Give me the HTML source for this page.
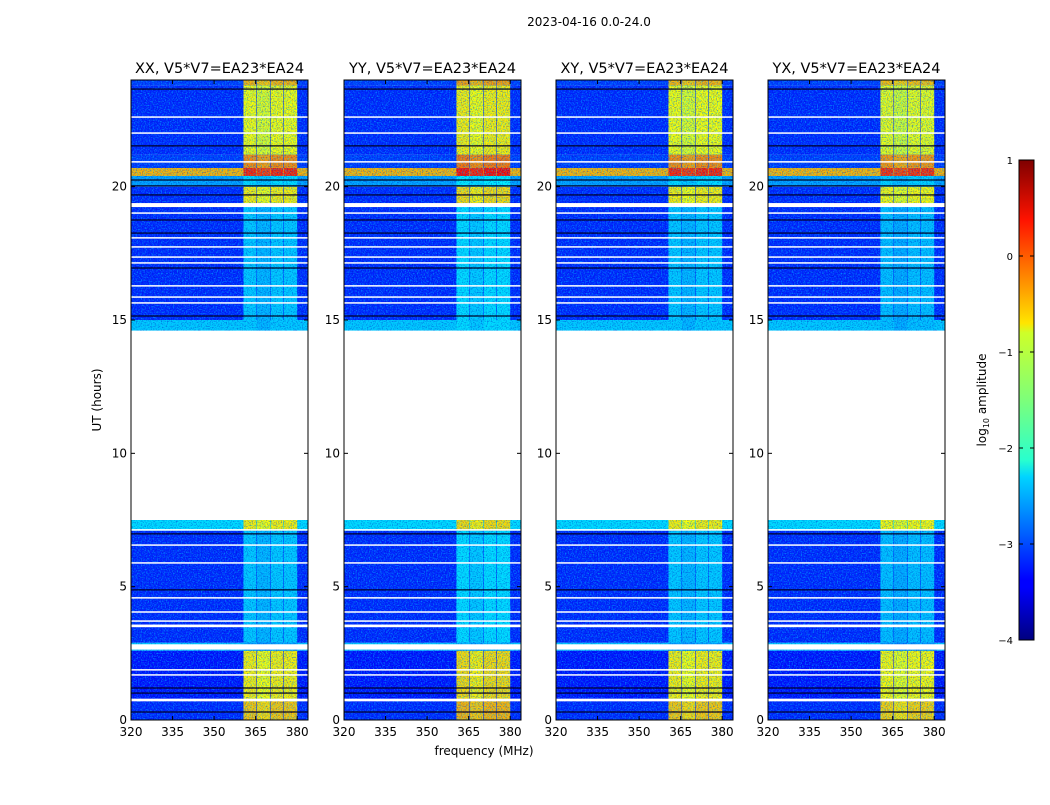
<!DOCTYPE html>
<html><head><meta charset="utf-8"><style>
body{margin:0;background:#fff;width:1050px;height:800px;overflow:hidden}
svg text{font-family:"DejaVu Sans","Liberation Sans",sans-serif;fill:#000}
</style></head><body>
<svg id="fig" width="1050" height="800" viewBox="0 0 1050 800" xmlns="http://www.w3.org/2000/svg">
<defs>
<filter id="noise" x="0" y="0" width="1" height="1"><feTurbulence type="fractalNoise" baseFrequency="0.75" numOctaves="1" seed="3"/><feColorMatrix type="matrix" values="0 0 0 0 0  0 0 0 0 0.75  0 0 0 0 1  2.6 0 0 0 -1.15"/></filter>
<filter id="noise2" x="0" y="0" width="1" height="1"><feTurbulence type="fractalNoise" baseFrequency="0.8" numOctaves="1" seed="9"/><feColorMatrix type="matrix" values="0 0 0 0 0  0 0 0 0 0  0 0 0 0 0.5  0 2.6 0 0 -1.2"/></filter>
<linearGradient id="jet" x1="0" y1="1" x2="0" y2="0">
<stop offset="0" stop-color="#00007f"/><stop offset="0.11" stop-color="#0000ff"/><stop offset="0.125" stop-color="#0000ff"/><stop offset="0.34" stop-color="#00d4ff"/><stop offset="0.375" stop-color="#29ffce"/><stop offset="0.5" stop-color="#7dff7a"/><stop offset="0.64" stop-color="#ceff29"/><stop offset="0.66" stop-color="#ffe500"/><stop offset="0.875" stop-color="#ff1300"/><stop offset="1" stop-color="#7f0000"/>
</linearGradient>
</defs>
<text x="589" y="26" font-size="12" text-anchor="middle">2023-04-16 0.0-24.0</text>
<text x="484" y="755" font-size="12" text-anchor="middle">frequency (MHz)</text>
<text x="101" y="400" font-size="12" text-anchor="middle" transform="rotate(-90 101 400)">UT (hours)</text>
<g id="panels"></g>
<g>
<rect x="1019" y="160" width="15" height="480" fill="url(#jet)" stroke="#000" stroke-width="1"/>
<g id="cbticks"></g>
<text x="986" y="400" font-size="12" text-anchor="middle" transform="rotate(-90 986 400)">log<tspan font-size="8" dy="3">10</tspan><tspan dy="-3"> amplitude</tspan></text>
</g>
</svg>
<script>
// ---- data ----
const panelTitles = ["XX, V5*V7=EA23*EA24","YY, V5*V7=EA23*EA24","XY, V5*V7=EA23*EA24","YX, V5*V7=EA23*EA24"];
const panelBandOffset = [0, 0.1, 0, -0.05];
const xTicks = [320,335,350,365,380];
const yTicks = [0,5,10,15,20];
const cbTicks = [1,0,-1,-2,-3,-4];
// time segments: start hour, end hour, background log amp, band log amp
const segStart = [0,   0.75, 2.6, 2.9, 7.1, 14.6, 15.0, 19.3, 20.0, 20.4, 20.7, 21.2, 23.8];
const segEnd   = [0.75,2.6,  2.9, 7.1, 7.5, 15.0, 19.3, 20.0, 20.4, 20.7, 21.2, 23.8, 24];
const segBg    = [-3.2,-3.3,-2.4,-3.2,-2.3,-2.4, -3.2, -3.2, -2.6, -0.5, -3.1, -3.2, -3.1];
const segBand  = [-0.6,-0.8,-2.6,-2.4,-0.8,-2.4, -2.4, -0.8, -2.3, 0.2,  -0.3, -0.9, -0.5];
// subbands (MHz)
const subStart = [360.6, 365.5, 370.4, 375.2];
const subEnd   = [365.3, 370.2, 375.0, 380.0];
// missing-data (white) lines: hour, thickness
const gapHour  = [22.61,22.01,20.93,19.31,19.01,18.08,17.74,17.36,17.14,16.28,15.86,15.64,7.13,6.56,5.89,4.58,4.05,3.71,3.53,2.74,1.88,1.69,0.75];
const gapWidth = [0.05,0.05,0.05,0.15,0.05,0.05,0.05,0.05,0.05,0.05,0.05,0.05,0.05,0.05,0.05,0.05,0.05,0.05,0.1,0.2,0.05,0.05,0.1];
// dark (zero) lines
const darkHour = [23.66,21.53,20.25,20.03,19.69,18.75,18.26,16.95,15.15,6.98,4.88,1.2,1.01,0.3];

// ---- helpers ----
const NS="http://www.w3.org/2000/svg";
const panelX=[131,344,556,768], PW=177, PT=80, PB=720;
const fMin=320, fMax=383.9, hMin=0, hMax=24;
function jet(v){ let t=(v+4)/5; t=Math.max(0,Math.min(1,t));
  const r=Math.max(0,Math.min(1,1.5-Math.abs(4*t-3))), g=Math.max(0,Math.min(1,1.5-Math.abs(4*t-2))), b=Math.max(0,Math.min(1,1.5-Math.abs(4*t-1)));
  return `rgb(${Math.round(r*255)},${Math.round(g*255)},${Math.round(b*255)})`; }
function mk(tag,attrs,parent){const e=document.createElementNS(NS,tag);for(const k in attrs)e.setAttribute(k,attrs[k]);parent.appendChild(e);return e;}
const root=document.getElementById('panels');
panelX.forEach((x0,p)=>{
  const xs=f=>x0+(f-fMin)/(fMax-fMin)*PW;
  const ys=h=>PB-(h-hMin)/(hMax-hMin)*(PB-PT);
  const g=mk('g',{},root);
  
  
  const img=mk('g',{},g);
  
  
  for(let i=0;i<segStart.length;i++){
    const y1=ys(segEnd[i]), y2=ys(segStart[i]);
    const r=mk('rect',{x:x0,y:y1,width:PW,height:y2-y1,fill:jet(segBg[i])},img);
    
    
    for(let s=0;s<subStart.length;s++){
      const b=mk('rect',{x:xs(subStart[s]),y:y1,width:xs(subEnd[s])-xs(subStart[s]),height:y2-y1,fill:jet(segBand[i]+panelBandOffset[p]-(s===1?0.1:0))},img);
      
      
    }
  }
  mk('rect',{x:x0,y:PT,width:PW,height:PB-PT,filter:'url(#noise)',opacity:0.6},img);
  mk('rect',{x:x0,y:PT,width:PW,height:PB-PT,filter:'url(#noise2)',opacity:0.5},img);
  darkHour.forEach(h=>{const l=mk('rect',{x:x0,y:ys(h)-0.6,width:PW,height:1.2,fill:'#000022'},img);
    
    });
  gapHour.forEach((h,i)=>{const t=Math.max(1.5,gapWidth[i]*(PB-PT)/24);
    const l=mk('rect',{x:x0,y:ys(h)-t/2,width:PW,height:t,fill:'#fff'},img);
    
    });
  const blank=mk('rect',{x:x0,y:ys(14.6),width:PW,height:ys(7.5)-ys(14.6),fill:'#fff'},img);
  
  
  mk('rect',{x:x0,y:PT,width:PW,height:PB-PT,fill:'none',stroke:'#000','stroke-width':1},g);
  const tt=mk('text',{x:x0+PW/2,y:PT-7,'font-size':14.5,'text-anchor':'middle'},g);
  tt.textContent=panelTitles[p];
  
  
  xTicks.forEach(f=>{const X=xs(f);
    mk('line',{x1:X,x2:X,y1:PB,y2:PB-4,stroke:'#000'},g);mk('line',{x1:X,x2:X,y1:PT,y2:PT+4,stroke:'#000'},g);
    const t=mk('text',{x:X,y:PB+16,'font-size':12,'text-anchor':'middle'},g);t.textContent=f;
    
    });
  yTicks.forEach(h=>{const Y=ys(h);
    mk('line',{x1:x0,x2:x0+4,y1:Y,y2:Y,stroke:'#000'},g);mk('line',{x1:x0+PW,x2:x0+PW-4,y1:Y,y2:Y,stroke:'#000'},g);
    const t=mk('text',{x:x0-4,y:Y+4,'font-size':12,'text-anchor':'end'},g);t.textContent=h;
    
    });
});
const cb=document.getElementById('cbticks');
cbTicks.forEach(v=>{const Y=160+(1-v)/5*480;
  mk('line',{x1:1019,x2:1023,y1:Y,y2:Y,stroke:'#000'},cb);mk('line',{x1:1034,x2:1030,y1:Y,y2:Y,stroke:'#000'},cb);
  const t=mk('text',{x:1013,y:Y+4,'font-size':10,'text-anchor':'end'},cb);t.textContent=v<0?'\u2212'+(-v):v;
  
  });
</script>
</body></html>
